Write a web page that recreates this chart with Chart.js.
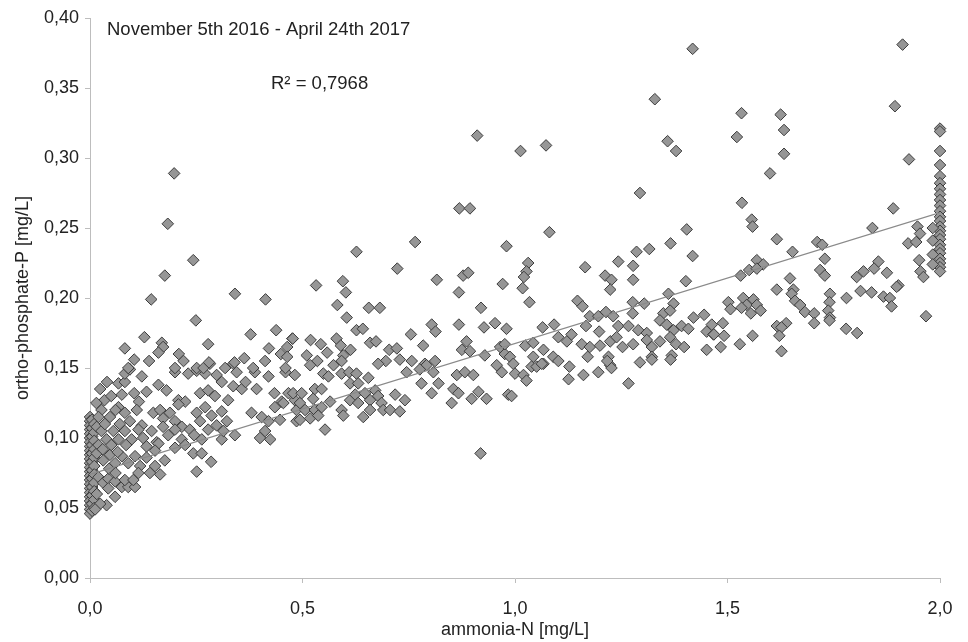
<!DOCTYPE html>
<html>
<head>
<meta charset="utf-8">
<script src="https://cdn.jsdelivr.net/npm/chart.js@4.4.1/dist/chart.umd.min.js"></script>
<style>
  html, body { margin: 0; padding: 0; background: #fff; }
  #wrap { width: 968px; height: 642px; }
</style>
</head>
<body>
<div id="wrap"><canvas id="chart" width="968" height="642"></canvas></div>
<script>
// Streudiagramm ammonia-N vs. ortho-phosphate-P mit linearer Trendlinie.

const PERIOD_LABEL = "November 5th 2016 - April 24th 2017";
const R2_LABEL = "R\u00b2 = 0,7968";
const X_TITLE = "ammonia-N [mg/L]";
const Y_TITLE = "ortho-phosphate-P [mg/L]";

const xTicks = [0, 0.5, 1.0, 1.5, 2.0];
const yTicks = [0, 0.05, 0.10, 0.15, 0.20, 0.25, 0.30, 0.35, 0.40];

// Trendlinie (Excel, linear)
const trendX = [0, 2];
const trendY = [0.074, 0.261];

const nearZero = [
  [0,0.115],[0,0.112],[0,0.109],[0,0.106],[0,0.103],[0,0.1],[0,0.097],[0,0.094],[0,0.091],[0,0.088],
  [0,0.085],[0,0.082],[0,0.079],[0,0.076],[0,0.073],[0,0.07],[0,0.067],[0,0.064],[0,0.061],[0,0.058],
  [0,0.055],[0,0.052],[0,0.049],[0,0.046],
  [0.005,0.113],[0.005,0.107],[0.005,0.101],[0.005,0.095],[0.005,0.089],[0.005,0.083],[0.005,0.077],
  [0.005,0.071],[0.005,0.065],[0.005,0.059],[0.005,0.053],[0.005,0.048],
  [0.01,0.11],[0.01,0.104],[0.01,0.098],[0.01,0.092],[0.01,0.086],[0.01,0.08],[0.01,0.074],[0.01,0.068],
  [0.01,0.062],[0.01,0.056],[0.01,0.05],
  [0.016,0.108],[0.027,0.105],[0.039,0.099],[0.055,0.105],[0.067,0.099],[0.082,0.105],[0.098,0.099],
  [0.024,0.135],[0.034,0.127],[0.067,0.139],[0.082,0.14],[0.075,0.131],[0.082,0.146],[0.094,0.149],
  [0.09,0.15],[0.082,0.164],[0.027,0.12],[0.047,0.115],[0.067,0.122],[0.082,0.118],[0.094,0.112],
  [0.016,0.089],[0.031,0.084],[0.047,0.088],[0.059,0.082],[0.075,0.087],[0.09,0.082],
  [0.02,0.072],[0.031,0.068],[0.043,0.071],[0.043,0.064],[0.059,0.069],[0.075,0.065],[0.09,0.065],
  [0.059,0.058],[0.039,0.052],[0.024,0.053],[0.016,0.06],[0.012,0.049],[0.082,0.07],
  [0.02,0.095],[0.035,0.11],[0.05,0.095],[0.065,0.09],[0.07,0.11],[0.085,0.095],[0.045,0.078],
  [0.06,0.075],[0.03,0.092],[0.02,0.115],[0.015,0.125],[0.05,0.13],[0.04,0.14],[0.06,0.12]
];

const lowRange = [
  [0.104,0.156],[0.139,0.155],[0.2,0.147],[0.231,0.146],[0.251,0.148],[0.271,0.146],[0.282,0.153],
  [0.298,0.145],[0.318,0.15],[0.337,0.153],[0.345,0.147],[0.388,0.147],[0.42,0.144],[0.46,0.147],
  [0.482,0.145],[0.122,0.144],
  [0.104,0.132],[0.133,0.133],[0.161,0.138],[0.18,0.134],[0.208,0.127],[0.224,0.126],[0.259,0.132],
  [0.278,0.134],[0.294,0.13],[0.31,0.14],[0.325,0.127],[0.337,0.137],[0.357,0.135],[0.366,0.14],
  [0.392,0.135],[0.434,0.132],[0.451,0.126],[0.467,0.132],[0.482,0.127],[0.115,0.126],
  [0.11,0.12],[0.122,0.109],[0.149,0.118],[0.165,0.12],[0.172,0.114],[0.188,0.118],[0.2,0.112],
  [0.216,0.108],[0.208,0.124],[0.251,0.118],[0.259,0.112],[0.271,0.122],[0.286,0.116],[0.31,0.119],
  [0.322,0.112],[0.298,0.109],[0.38,0.118],[0.404,0.115],[0.42,0.112],[0.435,0.122],[0.447,0.113],
  [0.455,0.125],[0.486,0.112],
  [0.114,0.106],[0.125,0.1],[0.145,0.105],[0.157,0.097],[0.172,0.108],[0.184,0.102],[0.2,0.106],
  [0.216,0.099],[0.235,0.106],[0.245,0.102],[0.263,0.099],[0.278,0.106],[0.31,0.099],[0.314,0.105],
  [0.341,0.102],[0.4,0.1],[0.424,0.099],[0.412,0.105],[0.133,0.094],[0.161,0.096],[0.2,0.093],
  [0.224,0.095],[0.153,0.091],
  [0.106,0.087],[0.118,0.08],[0.133,0.086],[0.153,0.08],[0.165,0.074],[0.176,0.084],[0.141,0.075],
  [0.251,0.076],[0.243,0.089],[0.263,0.089],[0.285,0.083],[0.114,0.075],[0.106,0.065],[0.102,0.07],
  [0.183,0.253],[0.243,0.227],[0.176,0.216],[0.144,0.199],[0.341,0.203],[0.413,0.199],[0.249,0.184],
  [0.128,0.172],[0.378,0.174],[0.438,0.177],[0.169,0.168],[0.172,0.165],[0.278,0.167],[0.161,0.161],
  [0.209,0.16],[0.22,0.155],[0.363,0.157],[0.421,0.164],[0.476,0.171],[0.464,0.165],[0.449,0.16],
  [0.464,0.158],[0.412,0.155],
  [0.2,0.15],[0.251,0.15],[0.267,0.15],[0.28,0.154],[0.34,0.154],[0.384,0.15],[0.46,0.15],
  [0.198,0.289],
  [0.477,0.171],[0.478,0.132],[0.486,0.12],[0.494,0.125],[0.494,0.113],[0.498,0.132]
];

const midRange = [
  [0.869,0.264],[0.894,0.264],[0.765,0.24],[0.98,0.237],[0.627,0.233],[0.723,0.221],[0.878,0.216],
  [0.89,0.218],[0.532,0.209],[0.595,0.212],[0.816,0.213],[0.971,0.21],[0.602,0.204],[0.868,0.204],
  [0.582,0.195],[0.656,0.193],[0.682,0.193],[0.92,0.193],[0.604,0.186],[0.627,0.177],[0.642,0.178],
  [0.804,0.181],[0.813,0.176],[0.868,0.181],[0.927,0.179],[0.953,0.182],[0.98,0.178],[0.519,0.17],
  [0.543,0.167],[0.58,0.171],[0.59,0.166],[0.659,0.168],[0.673,0.169],[0.755,0.174],[0.784,0.166],
  [0.886,0.169],[0.875,0.163],[0.894,0.162],[0.965,0.165],[0.976,0.16],[0.613,0.163],[0.596,0.159],
  [0.558,0.161],[0.51,0.159],[0.535,0.155],[0.592,0.155],[0.704,0.163],[0.722,0.164],[0.729,0.156],
  [0.696,0.155],[0.678,0.153],[0.929,0.159],[0.757,0.155],[0.788,0.153],[0.812,0.155],[0.957,0.152],
  [0.911,0.316],
  [0.792,0.152],[0.745,0.147],[0.776,0.149],[0.808,0.147],[0.863,0.145],[0.882,0.147],[0.902,0.145],
  [0.969,0.147],[0.549,0.146],[0.573,0.152],[0.592,0.146],[0.61,0.147],[0.627,0.146],[0.655,0.143],
  [0.612,0.139],[0.631,0.139],[0.561,0.144],[0.518,0.152],[0.78,0.139],[0.82,0.139],[0.855,0.135],
  [0.867,0.132],[0.804,0.132],[0.851,0.125],[0.898,0.128],[0.914,0.133],[0.933,0.128],[0.984,0.131],
  [0.529,0.135],[0.545,0.135],[0.525,0.128],[0.506,0.12],[0.529,0.12],[0.545,0.122],[0.565,0.126],
  [0.518,0.114],[0.537,0.116],[0.592,0.12],[0.596,0.116],[0.612,0.127],[0.624,0.131],[0.631,0.125],
  [0.647,0.132],[0.659,0.127],[0.671,0.134],[0.678,0.13],[0.686,0.125],[0.643,0.115],[0.659,0.12],
  [0.69,0.12],[0.706,0.12],[0.729,0.119],[0.718,0.131],[0.741,0.127],[0.553,0.106],[0.919,0.089],
  [0.976,0.167],[0.988,0.158],[0.992,0.13],[0.996,0.153]
];

const upperRange = [
  [1.418,0.378],[1.329,0.342],[1.013,0.305],[1.073,0.309],[1.359,0.312],[1.379,0.305],[1.294,0.275],
  [1.081,0.247],[1.404,0.249],[1.366,0.239],[1.316,0.235],[1.286,0.233],[1.418,0.23],[1.031,0.225],
  [1.243,0.226],[1.027,0.219],[1.165,0.222],[1.278,0.223],[1.021,0.215],[1.212,0.216],[1.227,0.213],
  [1.278,0.213],[1.402,0.212],[1.018,0.207],[1.224,0.206],[1.361,0.203],[1.034,0.197],[1.147,0.198],
  [1.159,0.194],[1.277,0.197],[1.304,0.196],[1.373,0.196],[1.176,0.187],[1.196,0.187],[1.214,0.19],
  [1.231,0.187],[1.277,0.189],[1.349,0.189],[1.365,0.191],[1.42,0.186],[1.445,0.188],[1.065,0.179],
  [1.092,0.181],[1.167,0.18],[1.198,0.176],[1.243,0.18],[1.267,0.18],[1.29,0.177],[1.31,0.175],
  [1.341,0.184],[1.357,0.181],[1.373,0.177],[1.392,0.18],[1.408,0.178],[1.451,0.176],[1.467,0.174],
  [1.024,0.166],[1.043,0.168],[1.067,0.163],[1.102,0.172],[1.122,0.169],[1.133,0.174],[1.157,0.167],
  [1.176,0.165],[1.2,0.166],[1.224,0.169],[1.239,0.172],[1.253,0.165],[1.278,0.167],[1.31,0.17],
  [1.322,0.165],[1.341,0.169],[1.365,0.172],[1.379,0.167],[1.398,0.165],[1.451,0.163],[1.043,0.158],
  [1.067,0.153],[1.09,0.158],[1.128,0.151],[1.171,0.158],[1.22,0.158],[1.224,0.152],[1.294,0.154],
  [1.322,0.158],[1.369,0.159],
  [1.0,0.146],[1.02,0.145],[1.027,0.141],[1.039,0.151],[1.051,0.151],[1.063,0.153],[1.102,0.155],
  [1.126,0.142],[1.161,0.145],[1.196,0.147],[1.227,0.15],[1.217,0.155],[1.267,0.139],[1.322,0.156],
  [1.366,0.156],
  [1.489,0.182],[1.463,0.181],[1.468,0.174],[1.492,0.173],[1.484,0.165]
];

const highRange = [
  [1.912,0.381],[1.894,0.337],[1.533,0.332],[1.625,0.331],[1.633,0.32],[1.522,0.315],[1.633,0.303],
  [1.6,0.289],[1.927,0.299],[1.534,0.268],
  [1.89,0.264],[1.557,0.256],[1.559,0.251],[1.841,0.25],[1.947,0.251],[1.953,0.246],[1.616,0.242],
  [1.711,0.24],[1.723,0.238],[1.925,0.239],[1.944,0.24],[1.653,0.233],[1.729,0.228],[1.951,0.227],
  [1.569,0.227],[1.584,0.224],[1.551,0.22],[1.569,0.221],[1.855,0.226],[1.845,0.221],[1.875,0.218],
  [1.82,0.219],[1.804,0.215],[1.718,0.22],[1.729,0.216],[1.954,0.219],[1.961,0.215],[1.531,0.216],
  [1.647,0.214],[1.902,0.209],[1.898,0.208],[1.616,0.206],[1.655,0.206],[1.651,0.203],[1.741,0.203],
  [1.813,0.205],[1.839,0.204],[1.78,0.2],[1.867,0.201],[1.882,0.2],[1.886,0.194],[1.502,0.197],
  [1.537,0.2],[1.561,0.199],[1.545,0.195],[1.569,0.195],[1.507,0.192],[1.533,0.193],[1.555,0.189],
  [1.578,0.191],[1.659,0.198],[1.671,0.195],[1.74,0.197],[1.737,0.191],[1.682,0.19],[1.704,0.189],
  [1.741,0.186],[1.74,0.184],[1.704,0.182],[1.967,0.187],[1.616,0.18],[1.638,0.182],[1.627,0.179],
  [1.622,0.173],[1.627,0.162],[1.779,0.178],[1.805,0.175],[1.559,0.173],[1.529,0.167]
];

const atTwo = [
  [2,0.321],[2,0.319],[2,0.305],[2,0.295],[2,0.287],[2,0.282],[2,0.278],[2,0.274],[2,0.27],[2,0.266],
  [2,0.262],[2,0.258],[2,0.255],[2,0.251],[2,0.248],[2,0.245],[2,0.242],[2,0.238],[2,0.235],[2,0.232],
  [2,0.228],[2,0.225],[2,0.222],[2,0.219],
  [1.983,0.25],[1.983,0.241],[1.983,0.231],[1.983,0.224]
];

const FONT = '"Liberation Sans", Arial, sans-serif';
const comma = (v, d) => v.toFixed(d).replace(".", ",");

const allPoints = [...nearZero, ...lowRange, ...midRange, ...upperRange, ...highRange, ...atTwo]
  .map(([x, y]) => ({ x, y }));

// Beschriftungen oben links im Diagramm
const notesPlugin = {
  id: "notes",
  afterDraw(chart) {
    const ctx = chart.ctx;
    ctx.save();
    ctx.font = "18.5px " + FONT;
    ctx.fillStyle = "#222";
    ctx.textBaseline = "middle";
    ctx.fillText(PERIOD_LABEL, 107, 30);
    ctx.fillText(R2_LABEL, 271, 84);
    ctx.restore();
  },
};

const axisColor = "#bdbdbd";

new Chart(document.getElementById("chart"), {
  type: "scatter",
  data: {
    datasets: [
      {
        type: "line",
        label: "trend",
        data: trendX.map((x, i) => ({ x, y: trendY[i] })),
        borderColor: "#8a8a8a",
        borderWidth: 1.2,
        pointRadius: 0,
        fill: false,
        order: 0,
      },
      {
        label: "samples",
        data: allPoints,
        pointStyle: "rectRot",
        pointRadius: 5.8,
        backgroundColor: "#969696",
        borderColor: "#3c3c3c",
        borderWidth: 1,
        clip: false,
        order: 1,
      },
    ],
  },
  options: {
    responsive: false,
    animation: false,
    layout: { padding: { top: 18, right: 28, left: 0, bottom: 0 } },
    plugins: { legend: { display: false }, tooltip: { enabled: false } },
    scales: {
      x: {
        type: "linear",
        min: xTicks[0],
        max: xTicks[xTicks.length - 1],
        afterBuildTicks: (s) => { s.ticks = xTicks.map((v) => ({ value: v })); },
        afterFit: (s) => { s.height = 64; },
        ticks: { callback: (v) => comma(v, 1), font: { family: FONT, size: 18 }, color: "#222", padding: 15 },
        grid: { drawOnChartArea: false, tickLength: 5, color: axisColor },
        border: { color: axisColor },
        title: { display: true, text: X_TITLE, font: { family: FONT, size: 18 }, color: "#222", padding: { top: 0, bottom: 1 } },
      },
      y: {
        min: yTicks[0],
        max: yTicks[yTicks.length - 1],
        afterBuildTicks: (s) => { s.ticks = yTicks.map((v) => ({ value: v })); },
        afterFit: (s) => { s.width = 90; },
        ticks: { callback: (v) => comma(v, 2), font: { family: FONT, size: 18 }, color: "#222", padding: 6 },
        grid: { drawOnChartArea: false, tickLength: 5, color: axisColor },
        border: { color: axisColor },
        title: { display: true, text: Y_TITLE, font: { family: FONT, size: 18 }, color: "#222", padding: { top: 12, bottom: 0 } },
      },
    },
  },
  plugins: [notesPlugin],
});
</script>
</body>
</html>
